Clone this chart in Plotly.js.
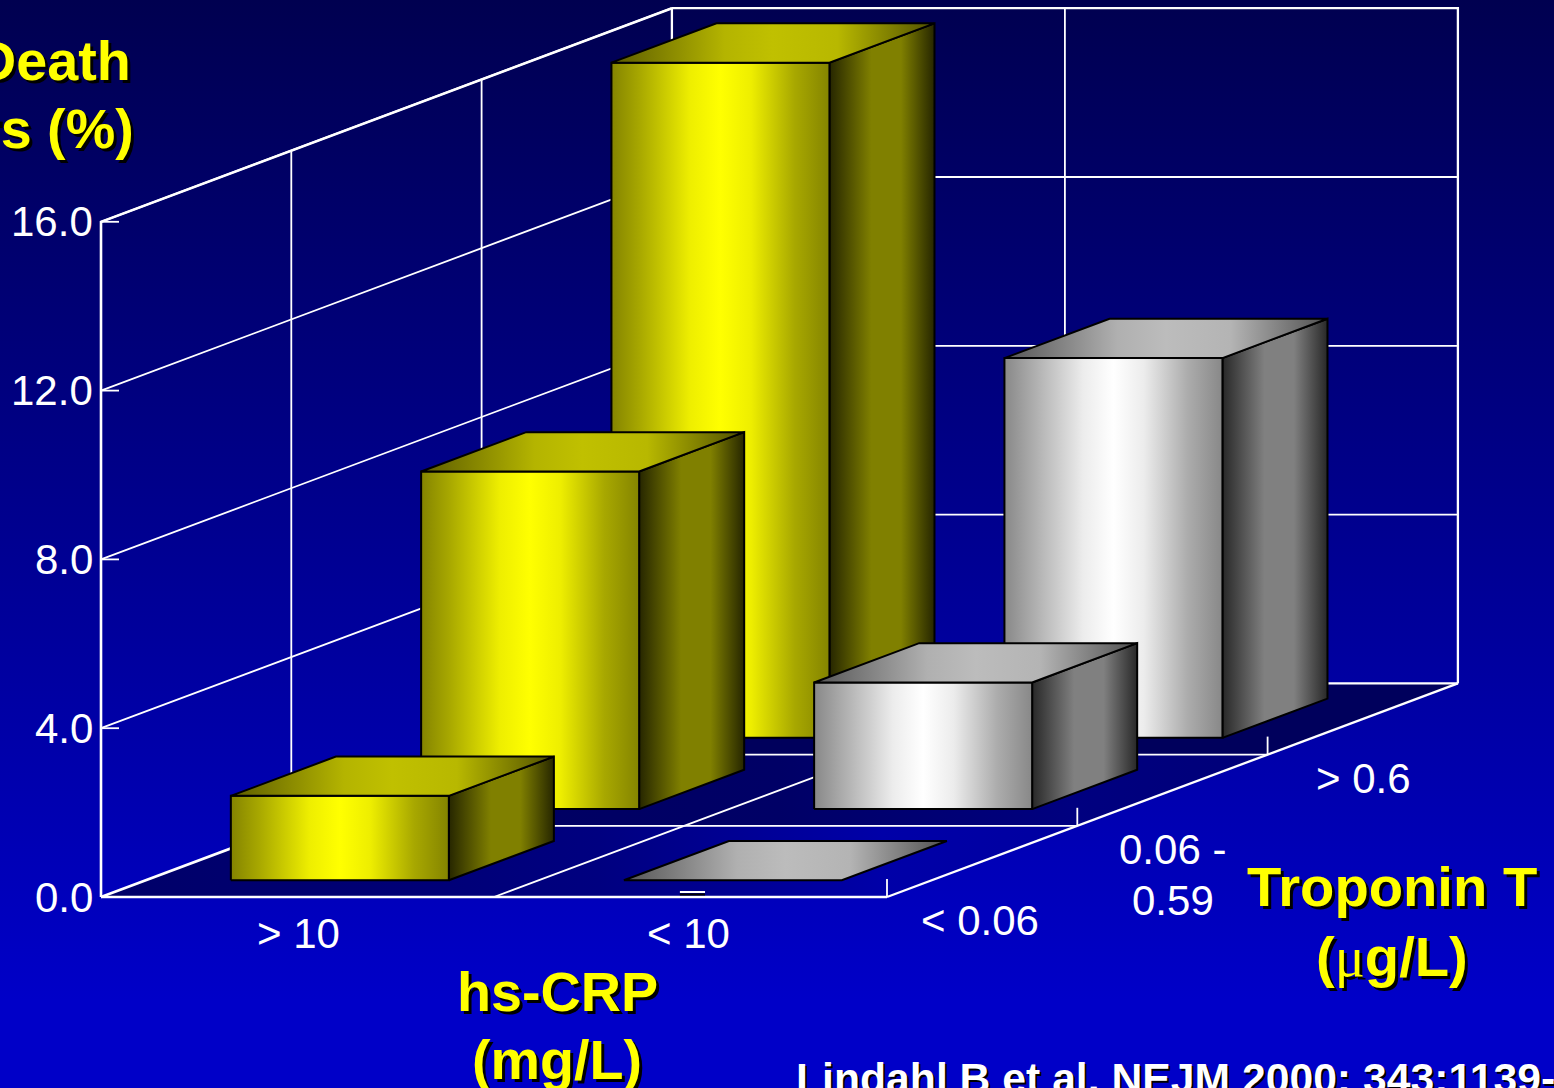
<!DOCTYPE html>
<html>
<head>
<meta charset="utf-8">
<script src="https://cdn.plot.ly/plotly-3.0.1.min.js"></script>
<style>
html,body{margin:0;padding:0;width:1554px;height:1088px;overflow:hidden;background:#000050}
#chart{width:1554px;height:1088px}
</style>
</head>
<body>
<div id="chart"></div>
<script>
// ---- data ----
const hsCrpCategories = ['> 10', '< 10'];
const troponinCategories = [['< 0.06'], ['0.06 -', '0.59'], ['> 0.6']];
const yellowValues = [2.0, 8.0, 16.0];   // hs-CRP > 10, by troponin group
const whiteValues = [0.0, 3.0, 9.0];     // hs-CRP < 10, by troponin group
const valueTicks = [0, 4, 8, 12, 16];

// ---- oblique projection of (category, depth, value) onto the page axes ----
const O = {x: 101, y: 897}, XSTEP = 393, DX = 190.3, DY = 71.2, VY = 42.2;
const VMAX = 16, NX = hsCrpCategories.length, ND = troponinCategories.length;
const P = (c, d, v) => [O.x + XSTEP * c + DX * d, O.y - DY * d - VY * v];

const traces = [];
function poly(pts, fill) {
  const xs = pts.map(p => p[0]), ys = pts.map(p => p[1]);
  xs.push(xs[0]); ys.push(ys[0]);
  traces.push(Object.assign({type: 'scatter', mode: 'lines', x: xs, y: ys, fill: 'toself',
    hoverinfo: 'skip', showlegend: false}, fill));
}
function lines(segs, color, width) {
  const xs = [], ys = [];
  segs.forEach(s => { s.forEach(p => { xs.push(p[0]); ys.push(p[1]); }); xs.push(null); ys.push(null); });
  traces.push({type: 'scatter', mode: 'lines', x: xs, y: ys, hoverinfo: 'skip', showlegend: false,
    line: {color: color, width: width}, connectgaps: false});
}
const noLine = {width: 0, color: 'rgba(0,0,0,0)'};
const grad = (type, stops) => ({fillgradient: {type: type, colorscale: stops}, fillcolor: stops[0][1]});

// page background
poly([[0, 0], [1554, 0], [1554, 1088], [0, 1088]],
  Object.assign({line: noLine}, grad('vertical', [[0, '#0000C8'], [0.08, '#0000C8'], [1, '#000050']])));

// floor, one strip per troponin group
const floorStops = [
  [[0, '#000068'], [0.2, '#000070'], [0.51, '#000080'], [0.8, '#0000a8'], [1, '#0000a0']],
  [[0, '#000060'], [0.5, '#000066'], [0.8, '#000080'], [1, '#000078']],
  [[0, '#00005c'], [1, '#00005c']]
];
floorStops.forEach((stops, d) => {
  poly([P(0, d, 0), P(NX, d, 0), P(NX, d + 1, 0), P(0, d + 1, 0)],
    Object.assign({line: noLine}, grad('horizontal', stops)));
});

// grid on walls and floor
const grid = [];
valueTicks.forEach(v => { if (v > 0) { grid.push([P(0, 0, v), P(0, ND, v), P(NX, ND, v)]); } });
for (let d = 1; d < ND; d++) grid.push([P(0, d, VMAX), P(0, d, 0), P(NX, d, 0)]);
for (let c = 1; c < NX; c++) grid.push([P(c, ND, VMAX), P(c, ND, 0), P(c, 0, 0)]);
lines(grid, '#ffffff', 1.8);
// frame
lines([[P(0, ND, VMAX), P(NX, ND, VMAX), P(NX, ND, 0)],
       [P(0, ND, VMAX), P(0, ND, 0)],
       [P(0, ND, 0), P(NX, ND, 0)],
       [P(0, 0, 0), P(NX, 0, 0)],
       [P(NX, 0, 0), P(NX, ND, 0)]], '#ffffff', 2.3);
lines([[P(0, 0, 0), P(0, 0, VMAX), P(0, ND, VMAX)], [P(0, 0, 0), P(0, ND, 0)]], '#ffffff', 2.6);
// ticks
const TICKV = 18 / VY, TICKX = 18 / XSTEP;
const ticks = valueTicks.map(v => [P(0, 0, v), P(TICKX, 0, v)]);
for (let d = 0; d < ND; d++) ticks.push([P(NX, d, 0), P(NX, d, TICKV)]);
lines(ticks, '#ffffff', 1.8);

// small marker at the foot of the < 10 column
lines([[P(1.473, 0, 0.06), P(1.537, 0, 0.06)]], '#000000', 2);
lines([[P(1.473, 0, 0.118), P(1.537, 0, 0.118)]], '#ffffff', 2);

// bars
const C0 = 0.2166, C1 = 0.7713, D0 = 0.235, D1 = 0.787;
const bright = c => [[0, c[0]], [0.13, c[1]], [0.36, c[2]], [0.5, c[3]], [0.64, c[2]], [0.84, c[1]], [1, c[0]]];
const palettes = {
  yellow: {
    front: bright(['#848400', '#a8a800', '#eeee00', '#ffff00']),
    top: [[0, '#5c5c00'], [0.35, '#b4b400'], [0.5, '#c0c000'], [0.7, '#b8b800'], [1, '#505000']],
    side: [[0, '#262600'], [0.4, '#808000'], [0.68, '#808000'], [1, '#262600']]
  },
  white: {
    front: bright(['#888888', '#acacac', '#ececec', '#ffffff']),
    top: [[0, '#555555'], [0.35, '#b0b0b0'], [0.5, '#bcbcbc'], [0.7, '#b4b4b4'], [1, '#505050']],
    side: [[0, '#282828'], [0.4, '#808080'], [0.68, '#808080'], [1, '#282828']]
  }
};
function bar(c, d, v, pal) {
  const x0 = c + C0, x1 = c + C1, d0 = d + D0, d1 = d + D1;
  const edge = {color: '#000000', width: 2};
  if (v > 0) {
    poly([P(x1, d0, 0), P(x1, d1, 0), P(x1, d1, v), P(x1, d0, v)],
      Object.assign({line: edge}, grad('horizontal', pal.side)));
    poly([P(x0, d0, 0), P(x1, d0, 0), P(x1, d0, v), P(x0, d0, v)],
      Object.assign({line: edge}, grad('horizontal', pal.front)));
  }
  poly([P(x0, d0, v), P(x1, d0, v), P(x1, d1, v), P(x0, d1, v)],
    Object.assign({line: edge}, grad('horizontal', pal.top)));
}
for (let d = ND - 1; d >= 0; d--) {
  bar(0, d, yellowValues[d], palettes.yellow);
  bar(1, d, whiteValues[d], palettes.white);
}

// ---- text ----
const ann = [];
const SANS = '"Liberation Sans", Arial, sans-serif';
function label(text, x, y, anchor) {
  ann.push({text: text, x: x, y: y, xref: 'x', yref: 'y', showarrow: false, xanchor: anchor || 'center', yanchor: 'middle',
    font: {family: SANS, size: 42, color: '#ffffff'}});
}
function heading(text, x, y, anchor, size) {
  ann.push({text: '<b>' + text + '</b>', x: x, y: y, xref: 'x', yref: 'y', showarrow: false, xanchor: anchor || 'center', yanchor: 'middle',
    font: {family: SANS, size: size || 55.7, color: '#ffff00', shadow: '3px 3px 0px #000000'}});
}
const nudge = t => t.charAt(0) === '<' ? -2 : 0.5;
valueTicks.forEach(v => { const p = P(0, 0, v); label(v.toFixed(1), p[0] - 6, p[1], 'right'); });
hsCrpCategories.forEach((t, i) => { const p = P(i + 0.5, 0, 0); label(t, p[0] + nudge(t), p[1] + 36); });
troponinCategories.forEach((lns, j) => {
  const p = P(NX, j + 0.5, 0);
  lns.forEach((t, k) => label(t, p[0] + nudge(t), p[1] + 59 + 51 * k));
});
heading('Death', 133, 61, 'right');
heading('rs (%)', 136, 129, 'right');
heading('hs-CRP', 557, 992);
heading('(mg/L)', 557, 1060);
heading('Troponin T', 1392, 886, 'center', 56.2);
heading('(<span style="font-family:\'Liberation Serif\';font-weight:normal">μ</span>g/L)', 1392, 956, 'center', 56.2);
ann.push({text: '<b>Lindahl B et al. NEJM 2000; 343:1139-</b>', x: 794, y: 1078, xref: 'x', yref: 'y', showarrow: false,
  xanchor: 'left', yanchor: 'middle', font: {family: SANS, size: 42.7, color: '#ffffff', shadow: '2px 2px 0px #000000'}});

Plotly.newPlot('chart', traces, {
  width: 1554, height: 1088,
  margin: {l: 0, r: 0, t: 0, b: 0},
  paper_bgcolor: '#000050', plot_bgcolor: 'rgba(0,0,0,0)',
  xaxis: {range: [0, 1554], visible: false, fixedrange: true},
  yaxis: {range: [1088, 0], visible: false, fixedrange: true},
  annotations: ann,
  showlegend: false
}, {displayModeBar: false, staticPlot: true});
</script>
</body>
</html>
